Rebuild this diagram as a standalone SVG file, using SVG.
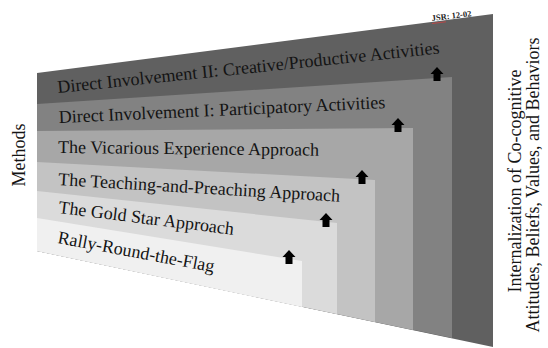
<svg xmlns="http://www.w3.org/2000/svg" xmlns:xlink="http://www.w3.org/1999/xlink" width="548" height="348" viewBox="0 0 548 348">
  <defs>
    <style>
      .lbl { font-family: "Liberation Serif", "Times New Roman", serif; font-size: 18px; fill: #141414; }
      .side { font-family: "Liberation Serif", "Times New Roman", serif; font-size: 18px; fill: #141414; text-anchor: middle; }
      .tag { font-family: "Liberation Serif", "Times New Roman", serif; font-size: 8.5px; font-weight: bold; fill: #222; }
      .arr { fill: #000; }
    </style>
    <path id="arr" class="arr" d="M0,0 L6.5,7 L3.5,7 L3.5,14 L-3.5,14 L-3.5,7 L-6.5,7 Z"/>
  </defs>
  <rect width="548" height="348" fill="#ffffff"/>

  <g id="layer1">
    <polygon points="37,73 493,14 493,347 37,251" fill="#606060"/>
    <text class="lbl" x="58" y="93" transform="rotate(-5.9 58 93)">Direct Involvement II: Creative/Productive Activities</text>
  </g>
  <g id="layer2">
    <polygon points="37,104 452,77 452,338 37,251" fill="#828282"/>
    <text class="lbl" x="59" y="123" transform="rotate(-2.6 59 123)">Direct Involvement I: Participatory Activities</text>
  </g>
  <g id="layer3">
    <polygon points="37,131 413,128 413,330 37,251" fill="#a7a7a7"/>
    <text class="lbl" x="58" y="153" transform="rotate(0.6 58 153)">The Vicarious Experience Approach</text>
  </g>
  <g id="layer4">
    <polygon points="37,162 375,180 375,322 37,251" fill="#c3c3c3"/>
    <text class="lbl" x="58" y="185" transform="rotate(3.4 58 185)">The Teaching-and-Preaching Approach</text>
  </g>
  <g id="layer5">
    <polygon points="37,191 337,223 337,314 37,251" fill="#dbdbdb"/>
    <text class="lbl" x="58" y="213" transform="rotate(7.1 58 213)">The Gold Star Approach</text>
  </g>
  <g id="layer6">
    <polygon points="37,218 302,261 302,307 37,251" fill="#f0f0f0"/>
    <text class="lbl" x="57" y="243" font-size="17.2" transform="rotate(10.6 57 243)">Rally-Round-the-Flag</text>
  </g>

  <g id="connectors">
    <use xlink:href="#arr" href="#arr" x="437" y="67"/>
    <use xlink:href="#arr" href="#arr" x="398" y="118"/>
    <use xlink:href="#arr" href="#arr" x="362" y="170"/>
    <use xlink:href="#arr" href="#arr" x="326" y="213"/>
    <use xlink:href="#arr" href="#arr" x="289" y="250"/>
  </g>

  <g id="methods">
    <text class="side" x="0" y="0" transform="translate(25 155) rotate(-90)">Methods</text>
  </g>

  <g id="internalization">
    <text class="side" x="0" y="0" transform="translate(521 181) rotate(-90)">Internalization of Co-cognitive</text>
    <text class="side" x="0" y="0" transform="translate(539 185) rotate(-90)">Attitudes, Beliefs, Values, and Behaviors</text>
  </g>

  <g id="tag">
    <text class="tag" x="432" y="21" transform="rotate(-7 432 21)">JSR: 12-02</text>
    <path d="M432,23.5 L446,21.8" stroke="#d04040" stroke-width="0.8" fill="none"/>
  </g>
</svg>
